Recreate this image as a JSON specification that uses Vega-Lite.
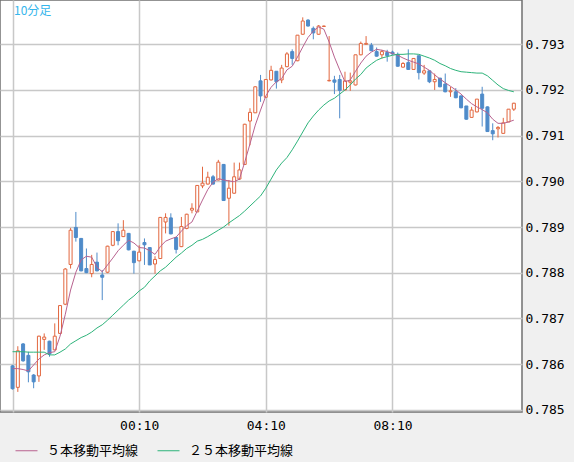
{
  "$schema": "https://vega.github.io/schema/vega-lite/v6.json",
  "width": 522,
  "height": 412,
  "autosize": "none",
  "padding": {"left": 0, "top": 0, "right": 52, "bottom": 50},
  "background": "#f0f0f0",
  "title": {
    "text": "10分足",
    "anchor": "start",
    "frame": "group",
    "offset": -18,
    "dx": 14,
    "color": "#35b6ec",
    "font": "Noto Sans CJK JP",
    "fontSize": 12,
    "fontWeight": "normal"
  },
  "data": {
    "values": [
      {"t": "2024-01-01T20:10:00Z", "o": 0.78596, "h": 0.78598, "l": 0.78544, "c": 0.78546, "ma5": 0.78590, "ma25": 0.78627},
      {"t": "2024-01-01T20:20:00Z", "o": 0.78549, "h": 0.78639, "l": 0.78539, "c": 0.78629, "ma5": 0.78590, "ma25": 0.78627},
      {"t": "2024-01-01T20:30:00Z", "o": 0.78644, "h": 0.78646, "l": 0.78605, "c": 0.78607, "ma5": 0.78588, "ma25": 0.78627},
      {"t": "2024-01-01T20:40:00Z", "o": 0.78619, "h": 0.78627, "l": 0.78560, "c": 0.78583, "ma5": 0.78585, "ma25": 0.78626},
      {"t": "2024-01-01T20:50:00Z", "o": 0.78576, "h": 0.78578, "l": 0.78547, "c": 0.78561, "ma5": 0.78598, "ma25": 0.78626},
      {"t": "2024-01-01T21:00:00Z", "o": 0.78574, "h": 0.78662, "l": 0.78561, "c": 0.78661, "ma5": 0.78611, "ma25": 0.78626},
      {"t": "2024-01-01T21:10:00Z", "o": 0.78654, "h": 0.78667, "l": 0.78631, "c": 0.78659, "ma5": 0.78620, "ma25": 0.78626},
      {"t": "2024-01-01T21:20:00Z", "o": 0.78650, "h": 0.78651, "l": 0.78616, "c": 0.78622, "ma5": 0.78625, "ma25": 0.78620},
      {"t": "2024-01-01T21:30:00Z", "o": 0.78631, "h": 0.78689, "l": 0.78630, "c": 0.78661, "ma5": 0.78627, "ma25": 0.78620},
      {"t": "2024-01-01T21:40:00Z", "o": 0.78667, "h": 0.78729, "l": 0.78666, "c": 0.78728, "ma5": 0.78661, "ma25": 0.78626},
      {"t": "2024-01-01T21:50:00Z", "o": 0.78731, "h": 0.78810, "l": 0.78729, "c": 0.78808, "ma5": 0.78709, "ma25": 0.78633},
      {"t": "2024-01-01T22:00:00Z", "o": 0.78818, "h": 0.78898, "l": 0.78809, "c": 0.78893, "ma5": 0.78762, "ma25": 0.78644},
      {"t": "2024-01-01T22:10:00Z", "o": 0.78899, "h": 0.78933, "l": 0.78868, "c": 0.78877, "ma5": 0.78801, "ma25": 0.78651},
      {"t": "2024-01-01T22:20:00Z", "o": 0.78875, "h": 0.78876, "l": 0.78803, "c": 0.78804, "ma5": 0.78828, "ma25": 0.78658},
      {"t": "2024-01-01T22:30:00Z", "o": 0.78809, "h": 0.78853, "l": 0.78799, "c": 0.78800, "ma5": 0.78836, "ma25": 0.78663},
      {"t": "2024-01-01T22:40:00Z", "o": 0.78798, "h": 0.78839, "l": 0.78790, "c": 0.78818, "ma5": 0.78834, "ma25": 0.78670},
      {"t": "2024-01-01T22:50:00Z", "o": 0.78823, "h": 0.78844, "l": 0.78803, "c": 0.78804, "ma5": 0.78812, "ma25": 0.78679},
      {"t": "2024-01-01T23:00:00Z", "o": 0.78795, "h": 0.78806, "l": 0.78740, "c": 0.78790, "ma5": 0.78802, "ma25": 0.78686},
      {"t": "2024-01-01T23:10:00Z", "o": 0.78801, "h": 0.78859, "l": 0.78799, "c": 0.78858, "ma5": 0.78817, "ma25": 0.78696},
      {"t": "2024-01-01T23:20:00Z", "o": 0.78860, "h": 0.78891, "l": 0.78858, "c": 0.78890, "ma5": 0.78832, "ma25": 0.78707},
      {"t": "2024-01-01T23:30:00Z", "o": 0.78890, "h": 0.78908, "l": 0.78860, "c": 0.78870, "ma5": 0.78848, "ma25": 0.78718},
      {"t": "2024-01-01T23:40:00Z", "o": 0.78879, "h": 0.78915, "l": 0.78878, "c": 0.78893, "ma5": 0.78860, "ma25": 0.78729},
      {"t": "2024-01-01T23:50:00Z", "o": 0.78886, "h": 0.78887, "l": 0.78849, "c": 0.78850, "ma5": 0.78871, "ma25": 0.78740},
      {"t": "2024-01-02T00:00:00Z", "o": 0.78847, "h": 0.78848, "l": 0.78798, "c": 0.78822, "ma5": 0.78865, "ma25": 0.78749},
      {"t": "2024-01-02T00:10:00Z", "o": 0.78826, "h": 0.78860, "l": 0.78825, "c": 0.78845, "ma5": 0.78855, "ma25": 0.78760},
      {"t": "2024-01-02T00:20:00Z", "o": 0.78866, "h": 0.78875, "l": 0.78817, "c": 0.78861, "ma5": 0.78854, "ma25": 0.78768},
      {"t": "2024-01-02T00:30:00Z", "o": 0.78855, "h": 0.78856, "l": 0.78817, "c": 0.78817, "ma5": 0.78848, "ma25": 0.78782},
      {"t": "2024-01-02T00:40:00Z", "o": 0.78819, "h": 0.78836, "l": 0.78798, "c": 0.78829, "ma5": 0.78840, "ma25": 0.78793},
      {"t": "2024-01-02T00:50:00Z", "o": 0.78831, "h": 0.78922, "l": 0.78831, "c": 0.78921, "ma5": 0.78857, "ma25": 0.78804},
      {"t": "2024-01-02T01:00:00Z", "o": 0.78911, "h": 0.78930, "l": 0.78886, "c": 0.78921, "ma5": 0.78869, "ma25": 0.78812},
      {"t": "2024-01-02T01:10:00Z", "o": 0.78920, "h": 0.78930, "l": 0.78884, "c": 0.78885, "ma5": 0.78874, "ma25": 0.78823},
      {"t": "2024-01-02T01:20:00Z", "o": 0.78877, "h": 0.78878, "l": 0.78842, "c": 0.78851, "ma5": 0.78878, "ma25": 0.78834},
      {"t": "2024-01-02T01:30:00Z", "o": 0.78857, "h": 0.78922, "l": 0.78856, "c": 0.78901, "ma5": 0.78891, "ma25": 0.78843},
      {"t": "2024-01-02T01:40:00Z", "o": 0.78897, "h": 0.78929, "l": 0.78895, "c": 0.78928, "ma5": 0.78903, "ma25": 0.78853},
      {"t": "2024-01-02T01:50:00Z", "o": 0.78937, "h": 0.78952, "l": 0.78930, "c": 0.78941, "ma5": 0.78911, "ma25": 0.78860},
      {"t": "2024-01-02T02:00:00Z", "o": 0.78933, "h": 0.78992, "l": 0.78933, "c": 0.78991, "ma5": 0.78935, "ma25": 0.78869},
      {"t": "2024-01-02T02:10:00Z", "o": 0.78990, "h": 0.79032, "l": 0.78985, "c": 0.78996, "ma5": 0.78959, "ma25": 0.78873},
      {"t": "2024-01-02T02:20:00Z", "o": 0.78994, "h": 0.79021, "l": 0.78993, "c": 0.79009, "ma5": 0.78982, "ma25": 0.78879},
      {"t": "2024-01-02T02:30:00Z", "o": 0.79010, "h": 0.79014, "l": 0.78993, "c": 0.78994, "ma5": 0.78998, "ma25": 0.78886},
      {"t": "2024-01-02T02:40:00Z", "o": 0.79003, "h": 0.79047, "l": 0.79002, "c": 0.79042, "ma5": 0.79006, "ma25": 0.78893},
      {"t": "2024-01-02T02:50:00Z", "o": 0.79037, "h": 0.79038, "l": 0.78957, "c": 0.78958, "ma5": 0.79003, "ma25": 0.78900},
      {"t": "2024-01-02T03:00:00Z", "o": 0.78963, "h": 0.79003, "l": 0.78903, "c": 0.78985, "ma5": 0.79001, "ma25": 0.78909},
      {"t": "2024-01-02T03:10:00Z", "o": 0.78974, "h": 0.79041, "l": 0.78973, "c": 0.79010, "ma5": 0.78999, "ma25": 0.78917},
      {"t": "2024-01-02T03:20:00Z", "o": 0.79005, "h": 0.79041, "l": 0.79003, "c": 0.79025, "ma5": 0.79005, "ma25": 0.78925},
      {"t": "2024-01-02T03:30:00Z", "o": 0.79037, "h": 0.79126, "l": 0.79037, "c": 0.79125, "ma5": 0.79042, "ma25": 0.78935},
      {"t": "2024-01-02T03:40:00Z", "o": 0.79132, "h": 0.79160, "l": 0.79079, "c": 0.79151, "ma5": 0.79082, "ma25": 0.78946},
      {"t": "2024-01-02T03:50:00Z", "o": 0.79150, "h": 0.79208, "l": 0.79150, "c": 0.79207, "ma5": 0.79123, "ma25": 0.78957},
      {"t": "2024-01-02T04:00:00Z", "o": 0.79220, "h": 0.79233, "l": 0.79174, "c": 0.79187, "ma5": 0.79156, "ma25": 0.78968},
      {"t": "2024-01-02T04:10:00Z", "o": 0.79184, "h": 0.79224, "l": 0.79183, "c": 0.79223, "ma5": 0.79187, "ma25": 0.78985},
      {"t": "2024-01-02T04:20:00Z", "o": 0.79222, "h": 0.79253, "l": 0.79221, "c": 0.79243, "ma5": 0.79206, "ma25": 0.79005},
      {"t": "2024-01-02T04:30:00Z", "o": 0.79241, "h": 0.79241, "l": 0.79203, "c": 0.79218, "ma5": 0.79218, "ma25": 0.79025},
      {"t": "2024-01-02T04:40:00Z", "o": 0.79222, "h": 0.79255, "l": 0.79215, "c": 0.79248, "ma5": 0.79225, "ma25": 0.79040},
      {"t": "2024-01-02T04:50:00Z", "o": 0.79251, "h": 0.79283, "l": 0.79250, "c": 0.79279, "ma5": 0.79244, "ma25": 0.79052},
      {"t": "2024-01-02T05:00:00Z", "o": 0.79284, "h": 0.79289, "l": 0.79255, "c": 0.79269, "ma5": 0.79252, "ma25": 0.79069},
      {"t": "2024-01-02T05:10:00Z", "o": 0.79264, "h": 0.79320, "l": 0.79263, "c": 0.79320, "ma5": 0.79272, "ma25": 0.79088},
      {"t": "2024-01-02T05:20:00Z", "o": 0.79322, "h": 0.79359, "l": 0.79321, "c": 0.79351, "ma5": 0.79294, "ma25": 0.79108},
      {"t": "2024-01-02T05:30:00Z", "o": 0.79353, "h": 0.79355, "l": 0.79339, "c": 0.79340, "ma5": 0.79315, "ma25": 0.79128},
      {"t": "2024-01-02T05:40:00Z", "o": 0.79335, "h": 0.79339, "l": 0.79311, "c": 0.79325, "ma5": 0.79329, "ma25": 0.79143},
      {"t": "2024-01-02T05:50:00Z", "o": 0.79322, "h": 0.79342, "l": 0.79321, "c": 0.79340, "ma5": 0.79338, "ma25": 0.79156},
      {"t": "2024-01-02T06:00:00Z", "o": 0.79339, "h": 0.79341, "l": 0.79338, "c": 0.79340, "ma5": 0.79333, "ma25": 0.79167},
      {"t": "2024-01-02T06:10:00Z", "o": 0.79220, "h": 0.79318, "l": 0.79219, "c": 0.79221, "ma5": 0.79305, "ma25": 0.79176},
      {"t": "2024-01-02T06:20:00Z", "o": 0.79222, "h": 0.79231, "l": 0.79191, "c": 0.79217, "ma5": 0.79272, "ma25": 0.79182},
      {"t": "2024-01-02T06:30:00Z", "o": 0.79223, "h": 0.79233, "l": 0.79138, "c": 0.79199, "ma5": 0.79244, "ma25": 0.79191},
      {"t": "2024-01-02T06:40:00Z", "o": 0.79200, "h": 0.79240, "l": 0.79199, "c": 0.79220, "ma5": 0.79218, "ma25": 0.79200},
      {"t": "2024-01-02T06:50:00Z", "o": 0.79217, "h": 0.79238, "l": 0.79198, "c": 0.79220, "ma5": 0.79222, "ma25": 0.79211},
      {"t": "2024-01-02T07:00:00Z", "o": 0.79211, "h": 0.79277, "l": 0.79210, "c": 0.79277, "ma5": 0.79241, "ma25": 0.79224},
      {"t": "2024-01-02T07:10:00Z", "o": 0.79277, "h": 0.79306, "l": 0.79276, "c": 0.79302, "ma5": 0.79259, "ma25": 0.79234},
      {"t": "2024-01-02T07:20:00Z", "o": 0.79300, "h": 0.79318, "l": 0.79300, "c": 0.79302, "ma5": 0.79274, "ma25": 0.79248},
      {"t": "2024-01-02T07:30:00Z", "o": 0.79298, "h": 0.79303, "l": 0.79285, "c": 0.79286, "ma5": 0.79283, "ma25": 0.79257},
      {"t": "2024-01-02T07:40:00Z", "o": 0.79284, "h": 0.79293, "l": 0.79273, "c": 0.79274, "ma5": 0.79289, "ma25": 0.79265},
      {"t": "2024-01-02T07:50:00Z", "o": 0.79277, "h": 0.79288, "l": 0.79269, "c": 0.79284, "ma5": 0.79287, "ma25": 0.79270},
      {"t": "2024-01-02T08:00:00Z", "o": 0.79282, "h": 0.79288, "l": 0.79262, "c": 0.79275, "ma5": 0.79284, "ma25": 0.79273},
      {"t": "2024-01-02T08:10:00Z", "o": 0.79283, "h": 0.79286, "l": 0.79277, "c": 0.79279, "ma5": 0.79280, "ma25": 0.79276},
      {"t": "2024-01-02T08:20:00Z", "o": 0.79278, "h": 0.79282, "l": 0.79251, "c": 0.79252, "ma5": 0.79276, "ma25": 0.79278},
      {"t": "2024-01-02T08:30:00Z", "o": 0.79250, "h": 0.79261, "l": 0.79249, "c": 0.79258, "ma5": 0.79270, "ma25": 0.79278},
      {"t": "2024-01-02T08:40:00Z", "o": 0.79260, "h": 0.79289, "l": 0.79244, "c": 0.79245, "ma5": 0.79265, "ma25": 0.79279},
      {"t": "2024-01-02T08:50:00Z", "o": 0.79245, "h": 0.79270, "l": 0.79245, "c": 0.79269, "ma5": 0.79261, "ma25": 0.79279},
      {"t": "2024-01-02T09:00:00Z", "o": 0.79275, "h": 0.79275, "l": 0.79223, "c": 0.79238, "ma5": 0.79257, "ma25": 0.79278},
      {"t": "2024-01-02T09:10:00Z", "o": 0.79237, "h": 0.79255, "l": 0.79233, "c": 0.79242, "ma5": 0.79250, "ma25": 0.79274},
      {"t": "2024-01-02T09:20:00Z", "o": 0.79242, "h": 0.79243, "l": 0.79215, "c": 0.79218, "ma5": 0.79243, "ma25": 0.79270},
      {"t": "2024-01-02T09:30:00Z", "o": 0.79218, "h": 0.79236, "l": 0.79200, "c": 0.79223, "ma5": 0.79233, "ma25": 0.79265},
      {"t": "2024-01-02T09:40:00Z", "o": 0.79226, "h": 0.79226, "l": 0.79206, "c": 0.79207, "ma5": 0.79224, "ma25": 0.79258},
      {"t": "2024-01-02T09:50:00Z", "o": 0.79213, "h": 0.79236, "l": 0.79195, "c": 0.79196, "ma5": 0.79216, "ma25": 0.79253},
      {"t": "2024-01-02T10:00:00Z", "o": 0.79196, "h": 0.79207, "l": 0.79185, "c": 0.79198, "ma5": 0.79208, "ma25": 0.79247},
      {"t": "2024-01-02T10:10:00Z", "o": 0.79196, "h": 0.79204, "l": 0.79182, "c": 0.79183, "ma5": 0.79200, "ma25": 0.79243},
      {"t": "2024-01-02T10:20:00Z", "o": 0.79187, "h": 0.79188, "l": 0.79160, "c": 0.79161, "ma5": 0.79191, "ma25": 0.79240},
      {"t": "2024-01-02T10:30:00Z", "o": 0.79165, "h": 0.79165, "l": 0.79135, "c": 0.79136, "ma5": 0.79180, "ma25": 0.79239},
      {"t": "2024-01-02T10:40:00Z", "o": 0.79140, "h": 0.79163, "l": 0.79140, "c": 0.79156, "ma5": 0.79170, "ma25": 0.79238},
      {"t": "2024-01-02T10:50:00Z", "o": 0.79152, "h": 0.79180, "l": 0.79151, "c": 0.79180, "ma5": 0.79163, "ma25": 0.79237},
      {"t": "2024-01-02T11:00:00Z", "o": 0.79191, "h": 0.79207, "l": 0.79120, "c": 0.79160, "ma5": 0.79157, "ma25": 0.79237},
      {"t": "2024-01-02T11:10:00Z", "o": 0.79163, "h": 0.79164, "l": 0.79108, "c": 0.79109, "ma5": 0.79150, "ma25": 0.79231},
      {"t": "2024-01-02T11:20:00Z", "o": 0.79111, "h": 0.79127, "l": 0.79090, "c": 0.79104, "ma5": 0.79136, "ma25": 0.79221},
      {"t": "2024-01-02T11:30:00Z", "o": 0.79115, "h": 0.79121, "l": 0.79096, "c": 0.79118, "ma5": 0.79127, "ma25": 0.79211},
      {"t": "2024-01-02T11:40:00Z", "o": 0.79105, "h": 0.79139, "l": 0.79105, "c": 0.79128, "ma5": 0.79127, "ma25": 0.79203},
      {"t": "2024-01-02T11:50:00Z", "o": 0.79130, "h": 0.79158, "l": 0.79130, "c": 0.79158, "ma5": 0.79130, "ma25": 0.79199},
      {"t": "2024-01-02T12:00:00Z", "o": 0.79158, "h": 0.79172, "l": 0.79154, "c": 0.79171, "ma5": 0.79134, "ma25": 0.79196}
    ]
  },
  "encoding": {
    "x": {
      "field": "t",
      "type": "temporal",
      "title": null,
      "scale": {
        "type": "utc",
        "domain": [
          {"year": 2024, "month": 1, "date": 1, "hours": 19, "minutes": 55, "seconds": 42, "utc": true},
          {"year": 2024, "month": 1, "date": 2, "hours": 12, "minutes": 6, "utc": true}
        ]
      },
      "axis": {
        "values": [
          {"year": 2024, "month": 1, "date": 1, "hours": 20, "minutes": 10, "utc": true},
          {"year": 2024, "month": 1, "date": 2, "hours": 0, "minutes": 10, "utc": true},
          {"year": 2024, "month": 1, "date": 2, "hours": 4, "minutes": 10, "utc": true},
          {"year": 2024, "month": 1, "date": 2, "hours": 8, "minutes": 10, "utc": true}
        ],
        "labelExpr": "utcFormat(datum.value, '%H:%M') == '20:10' ? '' : utcFormat(datum.value, '%H:%M')",
        "labelFont": "DejaVu Sans Mono",
        "labelFontSize": 13,
        "labelColor": "#000000",
        "labelPadding": 7,
        "labelAngle": 0,
        "labelFlush": false,
        "labelOverlap": false,
        "ticks": false,
        "domain": false,
        "grid": true,
        "gridColor": "#c8c8c8",
        "gridWidth": 1.5
      }
    }
  },
  "layer": [
    {
      "mark": {"type": "rule", "strokeWidth": 1},
      "encoding": {
        "y": {
          "field": "l",
          "type": "quantitative",
          "title": null,
          "scale": {"domain": [0.78495, 0.79397], "nice": false, "zero": false},
          "axis": {
            "orient": "right",
            "values": [0.785, 0.786, 0.787, 0.788, 0.789, 0.79, 0.791, 0.792, 0.793],
            "format": ".3f",
            "labelFont": "DejaVu Sans Mono",
            "labelFontSize": 13,
            "labelColor": "#000000",
            "labelPadding": 3,
            "labelFlush": false,
            "labelOverlap": false,
            "ticks": false,
            "domain": false,
            "grid": true,
            "gridColor": "#c8c8c8",
            "gridWidth": 1.5
          }
        },
        "y2": {"field": "h"},
        "color": {
          "condition": {"test": "datum.c >= datum.o", "value": "#e2673f"},
          "value": "#4f8bc9"
        }
      }
    },
    {
      "mark": {"type": "bar", "size": 3, "strokeWidth": 1},
      "encoding": {
        "y": {"field": "o", "type": "quantitative", "title": null},
        "y2": {"field": "c"},
        "fill": {
          "condition": {"test": "datum.c >= datum.o", "value": "#ffffff"},
          "value": "#4f8bc9"
        },
        "stroke": {
          "condition": {"test": "datum.c >= datum.o", "value": "#e2673f"},
          "value": "#4f8bc9"
        }
      }
    },
    {
      "transform": [{"fold": ["ma5", "ma25"], "as": ["series", "value"]}],
      "mark": {"type": "line", "strokeWidth": 1},
      "encoding": {
        "y": {"field": "value", "type": "quantitative", "title": null},
        "color": {
          "field": "series",
          "type": "nominal",
          "scale": {"domain": ["ma5", "ma25"], "range": ["#b8628f", "#2db37a"]},
          "legend": {
            "orient": "none",
            "legendX": 15,
            "legendY": 439,
            "direction": "horizontal",
            "title": null,
            "symbolType": "stroke",
            "symbolSize": 484,
            "symbolStrokeWidth": 1,
            "labelExpr": "datum.value == 'ma5' ? '５本移動平均線' : '２５本移動平均線'",
            "labelFont": "Noto Sans CJK JP",
            "labelFontSize": 13,
            "labelColor": "#000000",
            "labelOffset": 9,
            "columnPadding": 16
          }
        }
      }
    }
  ],
  "config": {
    "view": {"fill": "#ffffff", "stroke": "#707070", "strokeWidth": 1.5}
  }
}
